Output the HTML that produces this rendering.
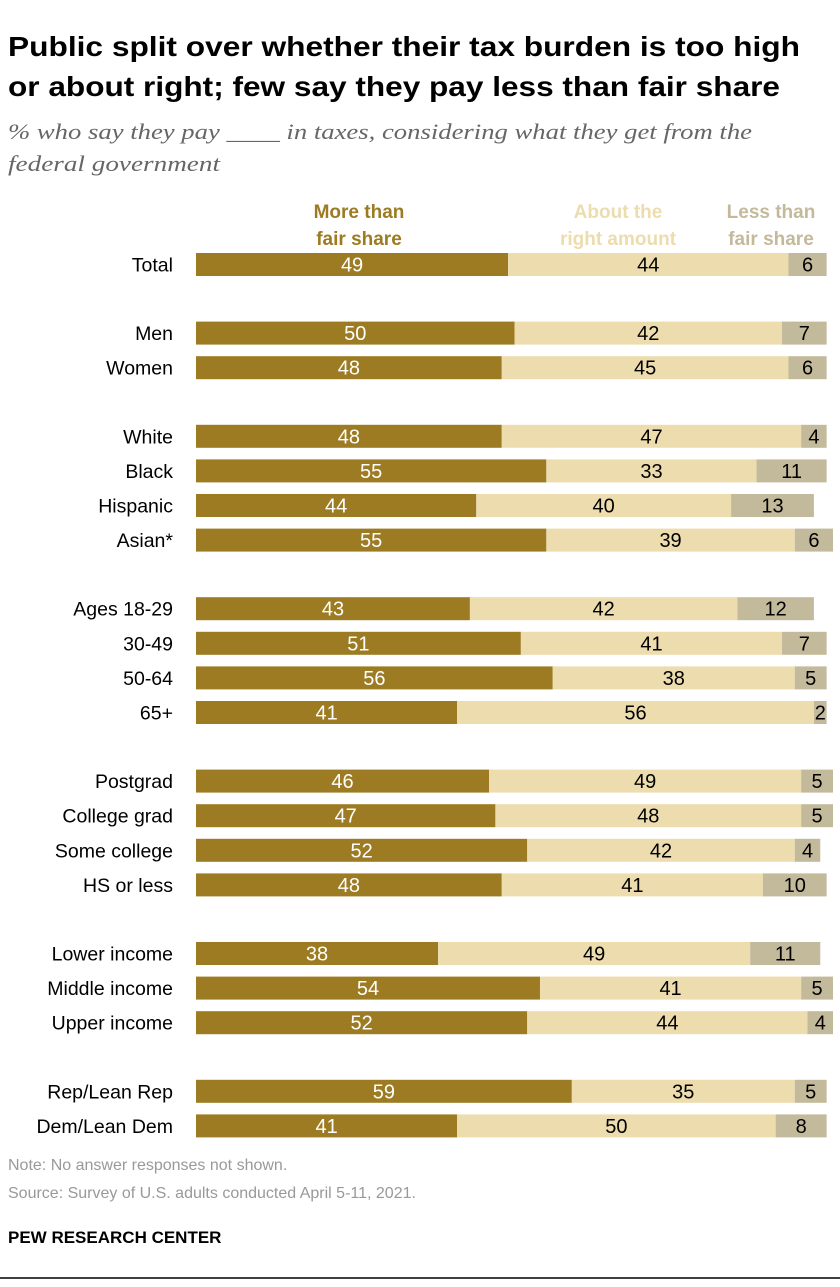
<!DOCTYPE html>
<html><head><meta charset="utf-8"><style>
body{margin:0;background:#fff;width:840px;height:1282px;overflow:hidden;font-family:"Liberation Sans",sans-serif}
</style></head><body>
<svg width="840" height="1282" xmlns="http://www.w3.org/2000/svg">
<text x="8" y="56" font-size="28" font-weight="bold" fill="#000" textLength="792" lengthAdjust="spacingAndGlyphs">Public split over whether their tax burden is too high</text>
<text x="8" y="96" font-size="28" font-weight="bold" fill="#000" textLength="772" lengthAdjust="spacingAndGlyphs">or about right; few say they pay less than fair share</text>
<text x="8" y="139" font-size="22" font-style="italic" fill="#666" font-family="Liberation Serif" textLength="744" lengthAdjust="spacingAndGlyphs">% who say they pay ____ in taxes, considering what they get from the</text>
<text x="8" y="171" font-size="22" font-style="italic" fill="#666" font-family="Liberation Serif" textLength="212" lengthAdjust="spacingAndGlyphs">federal government</text>
<g font-size="19" font-weight="bold" text-anchor="middle">
<text x="359" y="218" fill="#9c7b23"><tspan x="359">More than</tspan><tspan x="359" dy="27">fair share</tspan></text>
<text x="618" y="218" fill="#ecdcae"><tspan x="618">About the</tspan><tspan x="618" dy="27">right amount</tspan></text>
<text x="771" y="218" fill="#c3b99b"><tspan x="771">Less than</tspan><tspan x="771" dy="27">fair share</tspan></text>
</g>
<g id="bars"></g>
<text x="8" y="1170" font-size="16" fill="#999">Note: No answer responses not shown.</text>
<text x="8" y="1198" font-size="16" fill="#999">Source: Survey of U.S. adults conducted April 5-11, 2021.</text>
<text x="8" y="1243" font-size="17" font-weight="bold" fill="#000">PEW RESEARCH CENTER</text>
<line x1="0" y1="1278" x2="840" y2="1278" stroke="#000" stroke-width="1.5"/>
</svg>
<script>
const categories=["Total","Men","Women","White","Black","Hispanic","Asian*","Ages 18-29","30-49","50-64","65+","Postgrad","College grad","Some college","HS or less","Lower income","Middle income","Upper income","Rep/Lean Rep","Dem/Lean Dem"];
const groups=[0,1,1,2,2,2,2,3,3,3,3,4,4,4,4,5,5,5,6,6];
const moreThan=[49,50,48,48,55,44,55,43,51,56,41,46,47,52,48,38,54,52,59,41];
const aboutRight=[44,42,45,47,33,40,39,42,41,38,56,49,48,42,41,49,41,44,35,50];
const lessThan=[6,7,6,4,11,13,6,12,7,5,2,5,5,4,10,11,5,4,5,8];
const NS="http://www.w3.org/2000/svg";
const barsG=document.getElementById('bars');
const X0=196, K=6.37, ROWH=34.6, GAP=34, TOPY=253, BH=23;
const xs=v=>v*K;
const yFor=i=>TOPY+i*ROWH+groups[i]*GAP;
function mk(tag,attrs){const e=document.createElementNS(NS,tag);for(const a in attrs)e.setAttribute(a,attrs[a]);return e;}
categories.forEach((c,i)=>{
  const y=yFor(i);
  const lab=mk('text',{x:173,y:y+BH/2+7,'font-size':19.5,'text-anchor':'end',fill:'#000'});
  
  
  lab.textContent=c;barsG.appendChild(lab);
  const vals=[moreThan[i],aboutRight[i],lessThan[i]];
  const cols=['#9c7b23','#ecdcae','#c3b99b'];
  const names=['bar-more','bar-about','bar-less'];
  let x=X0;
  vals.forEach((v,j)=>{
    const w=xs(v);
    const r=mk('rect',{x:x,y:y,width:w,height:BH,fill:cols[j]});
    
    
    barsG.appendChild(r);
    const t=mk('text',{x:x+w/2,y:y+BH/2+7,'font-size':20,'text-anchor':'middle',fill:j==0?'#fff':'#000'});
    
    
    t.textContent=v;barsG.appendChild(t);
    x+=w;
  });
});
</script>
</body></html>
